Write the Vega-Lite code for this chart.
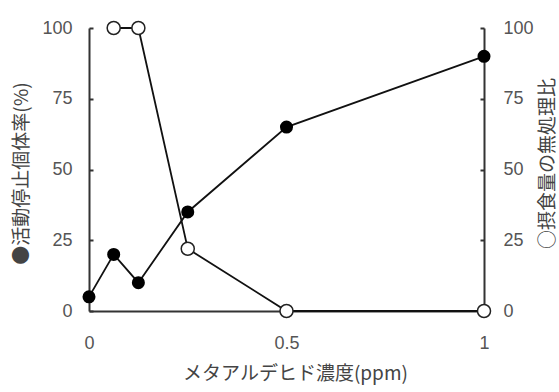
{
  "$schema": "https://vega.github.io/schema/vega-lite/v6.json",
  "width": 395,
  "height": 283,
  "autosize": {"type": "none"},
  "padding": {"left": 89, "top": 28, "right": 75, "bottom": 81},
  "background": "white",
  "config": {
    "view": {"stroke": null},
    "font": "Noto Sans CJK JP",
    "axis": {
      "grid": false,
      "domainColor": "#333",
      "domainWidth": 2,
      "tickColor": "#333",
      "tickWidth": 2,
      "labelColor": "#555",
      "labelFontSize": 18,
      "labelFont": "Liberation Sans",
      "titleColor": "#444",
      "titleFontSize": 19,
      "titleFontWeight": "normal",
      "titleBaseline": "middle"
    }
  },
  "datasets": {
    "active": [
      {"x": 0, "y": 5},
      {"x": 0.0625, "y": 20},
      {"x": 0.125, "y": 10},
      {"x": 0.25, "y": 35},
      {"x": 0.5, "y": 65},
      {"x": 1, "y": 90}
    ],
    "feeding": [
      {"x": 0.0625, "y": 100},
      {"x": 0.125, "y": 100},
      {"x": 0.25, "y": 22},
      {"x": 0.5, "y": 0},
      {"x": 1, "y": 0}
    ]
  },
  "encoding": {
    "x": {
      "field": "x",
      "type": "quantitative",
      "scale": {"domain": [0, 1], "nice": false, "zero": false},
      "axis": {
        "values": [0, 0.5, 1],
        "format": "~g",
        "ticks": false,
        "labelFlush": false,
        "labelPadding": 23,
        "title": "メタアルデヒド濃度(ppm)",
        "titleX": 206,
        "titleY": 62
      }
    }
  },
  "layer": [
    {
      "data": {"name": "active"},
      "encoding": {
        "y": {
          "field": "y",
          "type": "quantitative",
          "scale": {"domain": [0, 100], "nice": false},
          "axis": {
            "orient": "left",
            "values": [0, 25, 50, 75, 100],
            "tickSize": -4,
            "labelPadding": 21,
            "title": "●活動停止個体率(%)",
            "titleX": -68,
            "titleY": 145,
            "titleAngle": 270
          }
        }
      },
      "layer": [
        {"mark": {"type": "line", "color": "#111", "strokeWidth": 1.8}},
        {"mark": {"type": "point", "filled": true, "color": "#000", "size": 170, "opacity": 1}}
      ]
    },
    {
      "data": {"name": "feeding"},
      "encoding": {
        "y": {
          "field": "y",
          "type": "quantitative",
          "scale": {"domain": [0, 100], "nice": false},
          "axis": {
            "orient": "right",
            "values": [0, 25, 50, 75, 100],
            "tickSize": -4,
            "labelPadding": 23,
            "title": "○摂食量の無処理比",
            "titleX": 63,
            "titleY": 135,
            "titleAngle": 270
          }
        }
      },
      "layer": [
        {"mark": {"type": "line", "color": "#111", "strokeWidth": 1.8}},
        {"mark": {"type": "point", "filled": true, "fill": "white", "stroke": "#222", "strokeWidth": 1.5, "size": 170, "opacity": 1}}
      ]
    }
  ],
  "resolve": {"scale": {"y": "independent"}}
}
